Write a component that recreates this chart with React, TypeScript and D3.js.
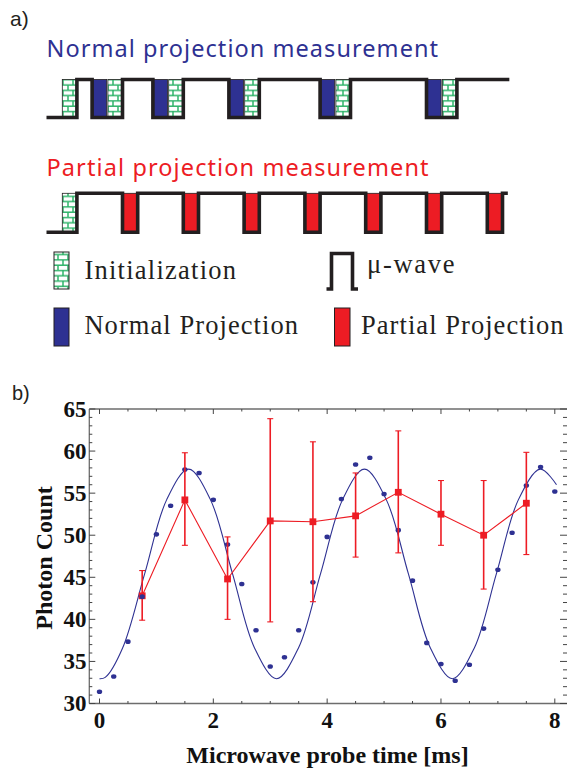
import React from 'react';
import * as d3 from 'd3';

// ---------- Panel b data ----------
const blueTimes = [0, 0.25, 0.5, 0.75, 1, 1.25, 1.5, 1.75, 2, 2.25, 2.5, 2.75, 3, 3.25, 3.5, 3.75, 4, 4.25, 4.5, 4.75, 5, 5.25, 5.5, 5.75, 6, 6.25, 6.5, 6.75, 7, 7.25, 7.5, 7.75, 8];
const blueCounts = [31.4, 33.2, 37.35, 42.7, 50.1, 53.5, 57.8, 57.4, 54.2, 48.9, 44.2, 38.7, 34.4, 35.5, 38.7, 44.4, 49.8, 54.3, 58.4, 59.2, 54.9, 50.6, 44.6, 37.2, 34.7, 32.7, 34.6, 38.9, 45.9, 50.3, 55.9, 58.1, 55.2];

const fitTimes = [0, 0.1, 0.406, 0.793, 1.179, 1.565, 1.951, 2.338, 2.724, 3.11, 3.496, 3.883, 4.269, 4.655, 5.041, 5.428, 5.814, 6.2, 6.586, 6.973, 7.359, 7.745, 8.03];
const fitCounts = [32.95, 33.1, 36.6, 45.4, 54.2, 57.85, 54.2, 45.4, 36.6, 32.95, 36.6, 45.4, 54.2, 57.85, 54.2, 45.4, 36.6, 32.95, 36.6, 45.4, 54.2, 57.85, 56.0];

const redTimes = [0.75, 1.5, 2.25, 3, 3.75, 4.5, 5.25, 6, 6.75, 7.5];
const redCounts = [42.8, 54.2, 44.8, 51.7, 51.6, 52.3, 55.1, 52.5, 50.0, 53.8];
const redHigh = [45.8, 59.8, 49.8, 63.85, 61.1, 57.4, 62.4, 56.5, 56.5, 59.85];
const redLow = [39.9, 48.8, 40.0, 39.7, 42.1, 47.4, 47.9, 48.8, 43.6, 47.7];

const yTicks = [30, 35, 40, 45, 50, 55, 60, 65];
const xTicks = [0, 2, 4, 6, 8];

// ---------- Panel a data (schematic time units) ----------
type Seg = { level: 'low' | 'high'; units: number; boxes?: string[] };
const normalSequence: Seg[] = [
  { level: 'low', units: 2, boxes: ['init'] },
  { level: 'high', units: 1 },
  { level: 'low', units: 2, boxes: ['normal', 'init'] },
  { level: 'high', units: 2 },
  { level: 'low', units: 2, boxes: ['normal', 'init'] },
  { level: 'high', units: 3 },
  { level: 'low', units: 2, boxes: ['normal', 'init'] },
  { level: 'high', units: 4 },
  { level: 'low', units: 2, boxes: ['normal', 'init'] },
  { level: 'high', units: 5 },
  { level: 'low', units: 2, boxes: ['normal', 'init'] },
  { level: 'high', units: 3.45 },
];
const partialSequence: Seg[] = [
  { level: 'low', units: 2, boxes: ['init'] },
  { level: 'high', units: 3 },
  { level: 'low', units: 1, boxes: ['partial'] },
  { level: 'high', units: 3 },
  { level: 'low', units: 1, boxes: ['partial'] },
  { level: 'high', units: 3 },
  { level: 'low', units: 1, boxes: ['partial'] },
  { level: 'high', units: 3 },
  { level: 'low', units: 1, boxes: ['partial'] },
  { level: 'high', units: 3 },
  { level: 'low', units: 1, boxes: ['partial'] },
  { level: 'high', units: 3 },
  { level: 'low', units: 1, boxes: ['partial'] },
  { level: 'high', units: 3 },
  { level: 'low', units: 1, boxes: ['partial'] },
  { level: 'high', units: 0.35 },
];

const BLUE = '#2e3192';
const RED = '#ed1c24';
const GREEN = '#2fb36a';
const INK = '#231f20';

const boxFill = (k: string) => (k === 'init' ? 'url(#brick)' : k === 'normal' ? BLUE : RED);

function Sequence({ seq, top, bottom }: { seq: Seg[]; top: number; bottom: number }) {
  const u = d3.scaleLinear().domain([0, 1]).range([46.5, 61.7]);
  const yl = (l: string) => (l === 'high' ? top : bottom);
  let acc = 0;
  const boxes: any[] = [];
  let path = `M${u(0)},${yl(seq[0].level)}`;
  seq.forEach((s, i) => {
    acc += s.units;
    if (s.boxes) {
      const n = s.boxes.length;
      s.boxes.forEach((b, j) => {
        const b0 = acc - (n - j);
        boxes.push(
          <rect key={`${i}-${j}`} x={u(b0) + 0.6} y={top} width={u(b0 + 1) - u(b0) - 1.2} height={bottom - top}
            fill={boxFill(b)} stroke={INK} strokeWidth={0.8} />
        );
      });
    }
    path += `H${u(acc)}`;
    if (i < seq.length - 1 && seq[i + 1].level !== s.level) path += `V${yl(seq[i + 1].level)}`;
  });
  return (
    <g>
      {boxes}
      <path d={path} fill="none" stroke={INK} strokeWidth={3.6} strokeLinejoin="miter" />
    </g>
  );
}

export default function App() {
  const x = d3.scaleLinear().domain([0, 8]).range([99.5, 554.8]);
  const y = d3.scaleLinear().domain([30, 65]).range([703.5, 409]);
  const left = 89.3, right = 568, top = 409, bottom = 703.5;

  const fitLine = d3.line<number>()
    .x((_, i) => x(fitTimes[i]))
    .y((d) => y(d))
    .curve(d3.curveCatmullRom.alpha(0.5));
  const redLine = d3.line<number>()
    .x((_, i) => x(redTimes[i]))
    .y((d) => y(d));

  const yMinor = d3.range(30, 66, 1);
  const xMinor = d3.range(0, 8.01, 0.5);
  const serif = "'Liberation Serif', 'Times New Roman', serif";
  const sans = "'Liberation Sans', Arial, sans-serif";
  const humanist = "'Noto Sans', 'Open Sans', sans-serif";

  return (
    <svg width={567} height={772} viewBox="0 0 567 772" style={{ position: 'absolute', left: 0, top: 0, background: '#fff' }}>
      <defs>
        <pattern id="brick" patternUnits="userSpaceOnUse" width={10} height={10.6} x={0} y={79}>
          <rect width={10} height={10.6} fill="#fff" />
          <line x1={0} x2={10} y1={0.7} y2={0.7} stroke={GREEN} strokeWidth={1.5} />
          <line x1={0} x2={10} y1={6} y2={6} stroke={GREEN} strokeWidth={1.5} />
          <line x1={3} x2={3} y1={0.7} y2={6} stroke={GREEN} strokeWidth={1.5} />
          <line x1={8} x2={8} y1={6} y2={10.6} stroke={GREEN} strokeWidth={1.5} />
        </pattern>
      </defs>
      <rect width={567} height={772} fill="#fff" />

      {/* ---------- Panel a ---------- */}
      <text x={10} y={26} fontFamily={sans} fontSize={21} fill="#231f20">a)</text>
      <text x={46.5} y={57.3} fontFamily={humanist} fontSize={23.5} fill={BLUE}
        textLength={391.5} lengthAdjust="spacing">Normal projection measurement</text>
      <Sequence seq={normalSequence} top={79.5} bottom={117.5} />

      <text x={46.5} y={175.5} fontFamily={humanist} fontSize={23.5} fill={RED}
        textLength={382} lengthAdjust="spacing">Partial projection measurement</text>
      <Sequence seq={partialSequence} top={193.3} bottom={232.3} />

      {/* legend */}
      <rect x={54} y={252} width={15} height={37} fill="url(#brick)" stroke={INK} strokeWidth={1} />
      <text x={84.4} y={279.3} fontFamily={serif} fontSize={26.5} fill={INK} textLength={151.6} lengthAdjust="spacing">Initialization</text>
      <path d="M326.5,289 H331.5 V253.5 H352.5 V289 H358" fill="none" stroke={INK} strokeWidth={3.6} />
      <text x={367} y={273.3} fontFamily={serif} fontSize={26.5} fill={INK} textLength={87.5} lengthAdjust="spacing">μ-wave</text>
      <rect x={54} y={308} width={15} height={38} fill={BLUE} stroke={INK} strokeWidth={1} />
      <text x={84.4} y={334.3} fontFamily={serif} fontSize={26.5} fill={INK} textLength={213.6} lengthAdjust="spacing">Normal Projection</text>
      <rect x={334.5} y={308} width={15.5} height={38} fill={RED} stroke={INK} strokeWidth={1} />
      <text x={361} y={334.3} fontFamily={serif} fontSize={26.5} fill={INK} textLength={202.6} lengthAdjust="spacing">Partial Projection</text>

      {/* ---------- Panel b ---------- */}
      <text x={12} y={400} fontFamily={sans} fontSize={20} fill="#231f20">b)</text>

      {/* frame */}
      <g stroke="#6d6d6d" strokeWidth={1.3} fill="none">
        <line x1={left} x2={right} y1={top} y2={top} />
        <line x1={left} x2={right} y1={bottom} y2={bottom} />
        <line x1={left} x2={left} y1={top} y2={bottom} />
        <line x1={right} x2={right} y1={top} y2={bottom} />
      </g>
      <g stroke="#444" strokeWidth={1}>
        {yMinor.map((v) => {
          const len = v % 5 === 0 ? 6 : 3;
          return (
            <g key={`yt${v}`}>
              <line x1={left} x2={left + len} y1={y(v)} y2={y(v)} />
              <line x1={567} x2={567 - len - 1} y1={y(v)} y2={y(v)} />
            </g>
          );
        })}
        {xMinor.map((v) => {
          const len = Math.abs(v % 2) < 1e-9 ? 5 : 2.5;
          return (
            <g key={`xt${v}`}>
              <line x1={x(v)} x2={x(v)} y1={bottom} y2={bottom - len} />
              <line x1={x(v)} x2={x(v)} y1={top} y2={top + len} />
            </g>
          );
        })}
      </g>
      <g fontFamily={serif} fontWeight="bold" fontSize={23} fill="#111">
        {yTicks.map((v) => (
          <text key={`yl${v}`} x={86.5} y={y(v)} dy="0.33em" textAnchor="end">{v}</text>
        ))}
        {xTicks.map((v) => (
          <text key={`xl${v}`} x={x(v)} y={727.5} textAnchor="middle">{v}</text>
        ))}
      </g>
      <text x={327.5} y={762.5} fontFamily={serif} fontWeight="bold" fontSize={24} textAnchor="middle" fill="#111">Microwave probe time [ms]</text>
      <text transform="translate(51.5,558) rotate(-90)" fontFamily={serif} fontWeight="bold" fontSize={24} textAnchor="middle" fill="#111">Photon Count</text>

      {/* fit curve */}
      <path d={fitLine(fitCounts) || ''} fill="none" stroke={BLUE} strokeWidth={1.1} />

      {/* blue data */}
      {blueCounts.map((v, i) => (
        <ellipse key={`b${i}`} cx={x(blueTimes[i])} cy={y(v)} rx={2.7} ry={2.3} fill={BLUE} />
      ))}

      {/* red series */}
      <path d={redLine(redCounts) || ''} fill="none" stroke={RED} strokeWidth={1.1} />
      {redCounts.map((v, i) => {
        const cx = x(redTimes[i]);
        return (
          <g key={`r${i}`}>
            <line x1={cx} x2={cx} y1={y(redHigh[i])} y2={y(redLow[i])} stroke={RED} strokeWidth={1.6} />
            <line x1={cx - 3} x2={cx + 3} y1={y(redHigh[i])} y2={y(redHigh[i])} stroke={RED} strokeWidth={1.1} />
            <line x1={cx - 3} x2={cx + 3} y1={y(redLow[i])} y2={y(redLow[i])} stroke={RED} strokeWidth={1.1} />
            <rect x={cx - 3.4} y={y(v) - 3.4} width={6.8} height={6.8} fill={RED} />
          </g>
        );
      })}
      {/* blue dot drawn over red square at overlapping point */}
      <ellipse cx={x(blueTimes[3])} cy={y(blueCounts[3])} rx={2.7} ry={2.3} fill={BLUE} />
    </svg>
  );
}
